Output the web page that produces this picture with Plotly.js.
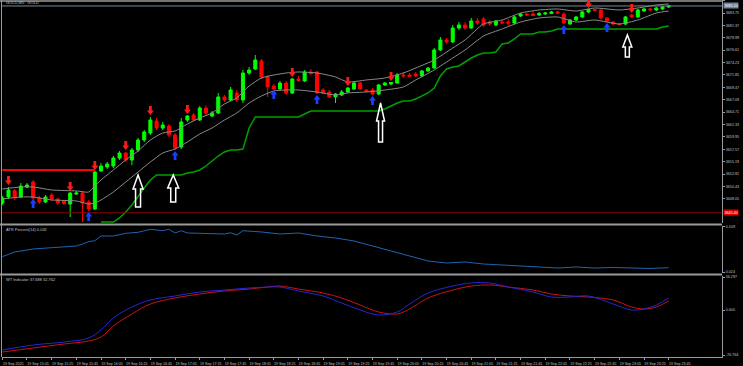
<!DOCTYPE html>
<html><head><meta charset="utf-8">
<script src="https://cdn.plot.ly/plotly-3.0.1.min.js"></script>
<style>html,body{margin:0;padding:0;background:#000;}#chart{width:743px;height:366px;}</style>
</head><body><div id="chart"></div>
<script>
// ---- candles (GOLD, M5, bars from 14:45 to 23:45) ----
const open = [3647.27,3648.43,3649.67,3648.43,3650.35,3651.31,3648.23,3647.47,3648.81,3648.04,
3647.66,3647.08,3649.00,3649.19,3647.47,3646.12,3653.42,3654.19,3654.38,3655.91,
3656.87,3655.53,3657.45,3659.37,3660.71,3663.02,3661.67,3662.06,3660.33,3658.03,
3663.21,3664.17,3663.21,3665.51,3663.98,3664.55,3667.63,3667.05,3668.39,3667.05,
3672.23,3673.00,3674.54,3671.47,3669.74,3669.16,3670.31,3668.39,3671.08,3670.70,
3672.43,3672.43,3668.97,3668.59,3667.63,3668.01,3668.59,3669.16,3670.31,3668.97,
3668.97,3668.20,3669.93,3670.12,3670.31,3671.85,3671.85,3672.04,3671.66,3672.62,
3673.19,3676.65,3678.57,3678.19,3680.87,3681.45,3680.87,3682.22,3682.60,3682.03,
3681.45,3682.03,3682.03,3681.83,3683.18,3683.56,3683.56,3683.37,3683.56,3683.66,
3683.95,3683.56,3681.64,3682.41,3682.99,3683.95,3684.43,3684.33,3682.79,3682.03,
3681.64,3681.64,3683.37,3682.99,3684.14,3684.52,3684.33,3684.52,3684.91];
const high = [3648.62,3650.35,3649.96,3651.11,3651.11,3651.69,3648.62,3648.81,3649.19,3648.23,
3647.85,3649.39,3649.58,3649.58,3647.85,3653.42,3654.95,3655.15,3656.30,3657.26,
3657.07,3657.83,3659.75,3661.29,3663.79,3663.59,3662.83,3662.44,3660.71,3663.59,
3664.17,3664.55,3665.90,3666.09,3664.94,3668.39,3668.01,3669.55,3668.97,3672.81,
3673.39,3675.69,3674.92,3671.85,3670.12,3670.70,3670.70,3671.27,3671.66,3672.81,
3673.00,3672.62,3669.35,3668.97,3668.39,3668.97,3669.55,3670.70,3670.51,3669.16,
3669.35,3670.12,3670.51,3670.51,3672.23,3672.43,3672.23,3672.43,3672.81,3673.39,
3677.03,3679.15,3678.95,3681.45,3682.03,3682.03,3682.79,3682.79,3682.99,3682.41,
3682.41,3682.41,3682.60,3683.18,3683.75,3683.75,3684.14,3683.95,3683.95,3684.14,
3684.14,3683.85,3682.60,3683.18,3684.14,3684.52,3684.52,3684.43,3682.99,3682.22,
3681.83,3683.18,3683.56,3684.52,3684.71,3684.71,3684.91,3685.10,3685.29];
const low = [3646.89,3648.04,3647.85,3648.23,3650.15,3646.31,3647.08,3647.27,3647.66,3646.89,
3646.89,3644.59,3648.81,3643.63,3645.74,3645.93,3653.23,3653.80,3653.99,3655.53,
3655.15,3654.57,3657.07,3658.99,3660.33,3661.29,3661.29,3659.95,3657.45,3657.64,
3662.83,3663.02,3663.02,3664.17,3663.79,3664.36,3666.67,3666.86,3666.67,3666.47,
3671.85,3672.81,3671.08,3667.63,3669.07,3668.97,3668.01,3668.20,3670.51,3670.51,
3671.85,3668.20,3668.20,3667.43,3666.47,3667.82,3668.39,3668.97,3668.97,3668.59,
3668.01,3668.01,3669.74,3669.93,3670.12,3671.27,3671.47,3671.47,3671.47,3672.43,
3673.00,3676.46,3677.80,3677.99,3680.49,3680.49,3680.68,3681.45,3681.07,3681.26,
3681.26,3681.64,3681.26,3681.64,3682.99,3683.18,3683.18,3683.18,3683.37,3683.56,
3683.56,3681.64,3681.45,3682.22,3682.79,3683.75,3684.14,3682.60,3682.03,3681.45,
3681.35,3681.45,3682.79,3682.79,3683.95,3684.14,3684.14,3684.33,3684.71];
const close = [3648.23,3649.77,3648.43,3650.54,3650.73,3648.23,3647.47,3648.43,3648.04,3647.27,
3647.18,3649.19,3649.19,3647.27,3646.12,3653.23,3654.38,3654.76,3655.91,3656.87,
3655.53,3657.45,3659.37,3660.91,3663.21,3661.67,3662.25,3660.33,3657.83,3662.83,
3663.98,3663.21,3665.51,3664.55,3664.55,3667.63,3667.05,3668.97,3667.05,3672.23,
3672.81,3674.73,3671.47,3669.55,3669.16,3670.31,3668.39,3671.08,3670.79,3672.43,
3672.14,3668.39,3668.39,3667.63,3668.20,3668.59,3669.35,3670.31,3669.16,3668.68,
3668.20,3669.93,3670.31,3670.41,3671.85,3671.66,3671.56,3671.66,3672.62,3673.19,
3676.65,3678.57,3678.19,3680.87,3681.45,3680.87,3682.22,3681.83,3681.45,3681.64,
3682.22,3681.83,3681.83,3682.99,3683.56,3683.37,3683.27,3683.66,3683.75,3683.95,
3683.75,3681.83,3682.41,3682.99,3683.95,3684.43,3684.23,3682.79,3682.22,3681.64,
3681.55,3682.99,3682.99,3684.33,3684.52,3684.39,3684.71,3684.91,3685.10];

// ---- envelope bands ----
const bandBars = [0,3,5,8,12,14,15,16,18,20,22,24,26,28,30,32,34,36,38,40,42,44,46,48,51,54,56,59,62,65,67,70,73,75,78,81,84,87,90,93,96,100,103,106,108];
const bandUpper = [3649.97,3650.35,3650.35,3649.78,3649.59,3649.39,3650.55,3651.70,3653.62,3655.54,3657.26,3659.37,3660.72,3661.10,3662.45,3663.60,3664.56,3666.28,3667.44,3669.74,3671.27,3671.85,3672.23,3672.43,3672.23,3671.47,3670.51,3670.89,3671.27,3672.23,3673.19,3674.73,3677.03,3678.57,3681.64,3682.41,3683.75,3684.33,3684.52,3684.13,3684.71,3684.33,3684.71,3685.29,3685.48];
const bandLower = [3648.05,3648.43,3648.43,3647.86,3647.67,3647.09,3647.28,3647.86,3649.39,3651.31,3653.23,3655.15,3656.88,3657.65,3658.99,3660.53,3661.68,3663.21,3664.56,3666.48,3667.82,3668.78,3668.97,3668.97,3668.59,3668.01,3668.40,3668.59,3668.97,3669.55,3670.89,3672.81,3675.11,3676.65,3679.34,3680.68,3682.02,3682.79,3682.98,3682.02,3682.41,3681.64,3682.41,3683.75,3684.13];

// ---- trailing stop ----
const stopDownBars = [0,15];
const stopDown = [3653.62,3653.62];
const stopUpBars = [16,18,19,20,21,22,23,24,25,29,30,31,32,33,34,35,36,37,38,39,40,41,48,49,50,61,62,63,64,65,66,67,68,69,70,71,72,73,74,75,76,77,78,79,80,81,82,83,84,86,87,88,89,90,106,107,108];
const stopUp = [3643.63,3643.63,3644.40,3645.55,3646.90,3648.63,3650.16,3651.70,3652.66,3652.66,3653.04,3653.23,3653.62,3654.38,3655.34,3656.30,3657.07,3657.45,3657.45,3657.65,3661.68,3663.79,3663.79,3664.36,3664.94,3664.94,3665.32,3665.90,3666.48,3666.86,3666.86,3667.24,3667.82,3668.40,3669.36,3671.66,3673.00,3673.39,3673.58,3674.35,3675.11,3675.69,3676.07,3676.07,3676.26,3677.80,3677.99,3678.76,3679.72,3679.72,3680.10,3680.10,3680.30,3680.68,3680.68,3681.06,3681.26];

// ---- signal arrows ----
const sellBars = [1,11,15,20,24,30,47,56,63,95,102];
const sellPrice = [3650.73,3649.58,3653.61,3657.45,3664.17,3664.36,3671.47,3669.74,3670.70,3684.71,3683.75];
const buyBars = [5,14,28,44,51,60,91,98];
const buyPrice = [3648.04,3645.55,3657.26,3668.97,3668.01,3667.82,3681.45,3681.83];
// hand-drawn up arrows (tip positions)
const markBars = [22,27.7,61.3,101.3];
const markPrice = [3652.65,3652.65,3666.47,3679.53];

// ---- ATR Percent(14) ----
const atrBars = [0,2,5,8,10,12,13,14,15,16,18,19,20,22,24,25,26,27,28,29,30,32,34,36,37,38,39,40,42,45,48,51,54,57,60,63,66,69,72,75,78,81,84,87,90,93,96,99,102,105,108];
const atrVals = [0.0527,0.0615,0.0672,0.0690,0.0709,0.0728,0.0765,0.0809,0.0827,0.0916,0.0916,0.0934,0.0966,0.0985,0.1041,0.1028,0.1015,0.1041,0.0972,0.1015,0.0972,0.0966,0.0953,0.0953,0.0977,0.0934,0.1015,0.1009,0.0991,0.0953,0.0972,0.0916,0.0878,0.0822,0.0728,0.0634,0.0540,0.0447,0.0409,0.0428,0.0390,0.0372,0.0353,0.0334,0.0315,0.0334,0.0315,0.0325,0.0315,0.0306,0.0320];

// ---- WT Indicator ----
const wtBars = [0,5,10,14,16,18,21,24,28,32,36,40,43,45,48,52,55,58,61,64,66,69,73,76,79,82,86,89,92,95,99,102,104,106,108];
const wt1 = [-68.2,-59.7,-54.6,-47.8,-34.1,-13.6,5.1,17.1,23.9,30.7,34.1,37.5,39.2,39.2,32.4,23.9,11.9,0.0,-8.5,-3.4,10.2,29.0,40.9,46.1,46.1,39.2,30.7,22.2,22.2,23.9,10.2,0.0,1.7,8.5,20.5];
const wt2 = [-71.7,-64.8,-58.0,-52.9,-46.1,-27.3,-6.8,10.2,20.5,27.3,32.4,35.8,39.2,40.9,35.8,29.0,20.5,8.5,-3.4,-6.8,1.7,20.5,34.1,40.9,42.7,39.2,34.1,27.3,23.9,22.2,17.1,5.1,1.7,5.1,15.4];

// ---- axis labels ----
const priceTicks = [3648.05,3650.43,3652.81,3655.19,3657.57,3659.95,3662.33,3664.71,3667.09,3669.47,3671.85,3674.23,3676.61,3678.99,3681.37,3683.75,3686.13];
const atrTicks = [0.024,0.109];
const wtTicks = [-76.764,0,56.297];
const timeTickBars = [0,4,8,12,16,20,24,28,32,36,40,44,48,52,56,60,64,68,72,76,80,84,88,92,96,100,104,108];
const timeLabels = ["19 Sep 2025","19 Sep 15:05","19 Sep 15:25","19 Sep 15:45","19 Sep 16:05","19 Sep 16:25","19 Sep 16:45","19 Sep 17:05","19 Sep 17:25","19 Sep 17:45","19 Sep 18:05","19 Sep 18:25","19 Sep 18:45","19 Sep 19:05","19 Sep 19:25","19 Sep 19:45","19 Sep 20:05","19 Sep 20:25","19 Sep 20:45","19 Sep 21:05","19 Sep 21:25","19 Sep 21:45","19 Sep 22:05","19 Sep 22:25","19 Sep 22:45","19 Sep 23:05","19 Sep 23:25","19 Sep 23:45"];
const redLevel = 3645.40;

// ================= drawing =================
const bars = open.map((_, i) => i);
const H = 357; // plot height in px (t=0)
const py = px => 1 - px / H;
const grey = '#9a9a9a';
const txt = '#c4c4c4';
const FONT = 'Liberation Sans';

const traces = [
  {type:'scatter', mode:'lines', x:bandBars, y:bandUpper, line:{color:'#8c8c8c', width:1, shape:'spline', smoothing:0.6}, hoverinfo:'skip'},
  {type:'scatter', mode:'lines', x:bandBars, y:bandLower, line:{color:'#8c8c8c', width:1, shape:'spline', smoothing:0.6}, hoverinfo:'skip'},
  {type:'scatter', mode:'lines', x:stopDownBars, y:stopDown, line:{color:'#ff0000', width:2}, hoverinfo:'skip'},
  {type:'scatter', mode:'lines', x:stopUpBars, y:stopUp, line:{color:'#00a000', width:1.5}, hoverinfo:'skip'},
  {type:'candlestick', x:bars, open:open, high:high, low:low, close:close,
   increasing:{line:{color:'#00ff00', width:1}, fillcolor:'#00ff00'},
   decreasing:{line:{color:'#ff0000', width:1}, fillcolor:'#ff0000'},
   whiskerwidth:0, hoverinfo:'skip'},
  {type:'scatter', mode:'lines', x:atrBars, y:atrVals, xaxis:'x', yaxis:'y2', line:{color:'#1f63b0', width:1}, hoverinfo:'skip'},
  {type:'scatter', mode:'lines', x:wtBars, y:wt2, xaxis:'x', yaxis:'y3', line:{color:'#c81414', width:1, shape:'spline'}, hoverinfo:'skip'},
  {type:'scatter', mode:'lines', x:wtBars, y:wt1, xaxis:'x', yaxis:'y3', line:{color:'#2626d6', width:1, shape:'spline'}, hoverinfo:'skip'}
];

const shapes = [];
// pane frames & separators
shapes.push({type:'line', xref:'paper', yref:'paper', x0:-0.003, x1:1, y0:py(224.5), y1:py(224.5), line:{color:grey, width:2}});
shapes.push({type:'line', xref:'paper', yref:'paper', x0:-0.003, x1:1, y0:py(274.5), y1:py(274.5), line:{color:grey, width:2}});
shapes.push({type:'line', xref:'paper', yref:'paper', x0:-0.003, x1:1, y0:py(1), y1:py(1), line:{color:grey, width:1.5}});
shapes.push({type:'line', xref:'paper', yref:'paper', x0:-0.0007, x1:-0.0007, y0:0, y1:1, line:{color:grey, width:1}});
// bid line and red level
shapes.push({type:'line', xref:'paper', yref:'y', x0:0, x1:1, y0:close[close.length-1], y1:close[close.length-1], line:{color:'#778899', width:1}});
shapes.push({type:'line', xref:'paper', yref:'y', x0:0, x1:1, y0:redLevel, y1:redLevel, line:{color:'#8b0000', width:1}});
// sell arrows (red, pointing down, tip at anchor)
sellBars.forEach((b, i) => shapes.push({type:'path', xref:'x', yref:'y', xsizemode:'pixel', ysizemode:'pixel',
  xanchor:b, yanchor:sellPrice[i], path:'M 0 0 L -3.5 4.5 L -1.4 4.5 L -1.4 9 L 1.4 9 L 1.4 4.5 L 3.5 4.5 Z',
  fillcolor:'#ff1a1a', line:{width:0}}));
// buy arrows (blue, pointing up)
buyBars.forEach((b, i) => shapes.push({type:'path', xref:'x', yref:'y', xsizemode:'pixel', ysizemode:'pixel',
  xanchor:b, yanchor:buyPrice[i], path:'M 0 0 L -3.5 -4.5 L -1.4 -4.5 L -1.4 -9 L 1.4 -9 L 1.4 -4.5 L 3.5 -4.5 Z',
  fillcolor:'#1a3cff', line:{width:0}}));
// hollow white arrows: [head half-width, head height, stem half-width, length]
const markStyle = [[5,14,2.5,32],[5.5,13,2.5,27],[4,18,2,39],[4.5,12,2,22]];
markBars.forEach((b, i) => {
  const [hw, hh, sw, L] = markStyle[i];
  shapes.push({type:'path', xref:'x', yref:'y', xsizemode:'pixel', ysizemode:'pixel', xanchor:b, yanchor:markPrice[i],
    path:`M 0 0 L ${-hw} ${-hh} L ${-sw} ${-hh} L ${-sw} ${-L} L ${sw} ${-L} L ${sw} ${-hh} L ${hw} ${-hh} Z`,
    fillcolor:'rgba(0,0,0,0)', line:{color:'#ffffff', width:1.5}});
});

const annotations = [
  {xref:'paper', yref:'paper', x:0.003, y:py(3), xanchor:'left', yanchor:'middle', text:'GOLD,M5:  GOLD', showarrow:false, font:{family:FONT, size:4, color:txt}},
  {xref:'paper', yref:'paper', x:0.003, y:py(229), xanchor:'left', yanchor:'middle', text:'ATR Percent(14) 0.032', showarrow:false, font:{family:FONT, size:4, color:txt}},
  {xref:'paper', yref:'paper', x:0.003, y:py(279.5), xanchor:'left', yanchor:'middle', text:'WT Indicator 37.688 32.762', showarrow:false, font:{family:FONT, size:4, color:txt}},
  {xref:'paper', yref:'y', x:1, y:close[close.length-1], xanchor:'left', yanchor:'middle', xshift:1, text:close[close.length-1].toFixed(2), showarrow:false, bgcolor:'#6f8096', borderpad:0.5, font:{family:FONT, size:3.7, color:'#ffffff'}},
  {xref:'paper', yref:'y', x:1, y:redLevel, xanchor:'left', yanchor:'middle', xshift:1, text:redLevel.toFixed(2), showarrow:false, bgcolor:'#e00000', borderpad:0.5, font:{family:FONT, size:3.7, color:'#ffffff'}}
];

const yCommon = {side:'right', anchor:'x', showgrid:false, zeroline:false, showline:true, linecolor:grey, linewidth:1,
  ticks:'outside', ticklen:2, tickcolor:grey, tickfont:{family:FONT, size:3.7, color:txt}, fixedrange:true};

const layout = {
  width:743, height:366,
  margin:{l:2, r:21, t:0, b:9, pad:0},
  paper_bgcolor:'#000', plot_bgcolor:'#000',
  showlegend:false, boxgap:0.3,
  font:{family:FONT, size:4, color:txt},
  xaxis:{range:[-0.05, 116.64], anchor:'y3', tickvals:timeTickBars, ticktext:timeLabels,
    ticks:'outside', ticklen:2, tickcolor:grey, tickfont:{family:FONT, size:3.6, color:txt},
    ticklabelshift:11, ticklabelstandoff:1,
    showgrid:false, zeroline:false, showline:true, linecolor:grey, linewidth:1,
    rangeslider:{visible:false}, fixedrange:true},
  yaxis:Object.assign({}, yCommon, {domain:[1-223/H, 1], range:[3643.44, 3686.245], tickvals:priceTicks, ticktext:priceTicks.map(v=>v.toFixed(2))}),
  yaxis2:Object.assign({}, yCommon, {domain:[1-273/H, 1-226/H], range:[0.02212, 0.11031], tickvals:atrTicks, ticktext:atrTicks.map(v=>v.toFixed(3))}),
  yaxis3:Object.assign({}, yCommon, {domain:[0, 1-276/H], range:[-80.176, 58.003], tickvals:wtTicks, ticktext:wtTicks.map(v=>v.toFixed(3))}),
  shapes:shapes,
  annotations:annotations
};

Plotly.newPlot('chart', traces, layout, {displayModeBar:false, staticPlot:true});
</script>
</body></html>
